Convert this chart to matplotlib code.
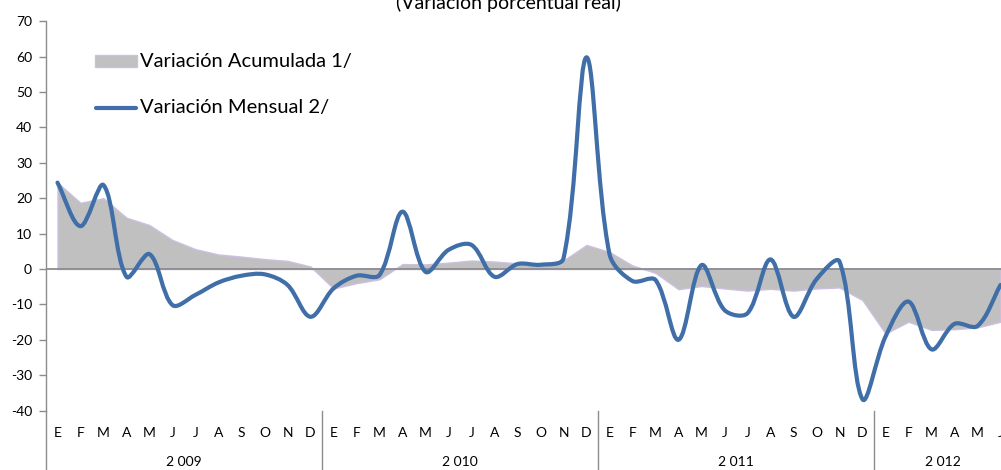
import matplotlib
matplotlib.use('Agg')
import matplotlib.pyplot as plt
from matplotlib.path import Path
from matplotlib.patches import PathPatch, Rectangle
from matplotlib.lines import Line2D
import matplotlib.transforms as mtransforms

plt.rcParams['font.family'] = ['Lato', 'DejaVu Sans']
plt.rcParams['axes.unicode_minus'] = False

# Data: monthly categories Jan 2009 - Jun 2012
months = ['E', 'F', 'M', 'A', 'M', 'J', 'J', 'A', 'S', 'O', 'N', 'D'] * 3 + ['E', 'F', 'M', 'A', 'M', 'J']
years = ['2 009', '2 010', '2 011', '2 012']
year_lengths = [12, 12, 12, 6]

variacion_acumulada = [24.4, 18.7, 20.0, 14.5, 12.4, 8.2, 5.6, 4.1, 3.5, 2.8, 2.3, 0.7,
                       -5.5, -4.0, -2.9, 1.4, 1.3, 1.8, 2.4, 2.1, 1.6, 1.5, 2.4, 6.8,
                       4.8, 1.0, -1.1, -5.7, -4.8, -5.5, -6.1, -5.6, -6.1, -5.5, -5.2, -8.8,
                       -18.2, -14.9, -17.2, -17.0, -16.5, -14.9]
variacion_mensual = [24.4, 12.1, 23.7, -2.2, 4.2, -10.2, -7.3, -3.8, -1.9, -1.5, -4.5, -13.5,
                     -5.5, -1.9, -1.7, 16.2, -0.8, 5.4, 6.8, -2.2, 1.4, 1.2, 3.0, 59.8,
                     4.2, -3.4, -3.1, -20.0, 1.1, -11.6, -12.5, 2.7, -13.5, -2.9, 2.1, -36.8,
                     -19.1, -9.2, -22.7, -15.5, -16.1, -4.5]

x = list(range(len(variacion_mensual)))

W, H = 1001, 470
fig = plt.figure(figsize=(W / 100, H / 100), dpi=100)
ax = fig.add_axes([46 / W, 1 - 410.6 / H, 966 / W, (410.6 - 21.2) / H])

# Area series
ax.fill_between(x, 0, variacion_acumulada, facecolor='#c0c0c0', edgecolor='#cdbfe0',
                linewidth=1.0, zorder=1)

# Zero line
ax.axhline(0, color='#8c8c8c', linewidth=1.3, zorder=2)

# pixel scale of the axes, used to weight the smoothing like a spreadsheet does
SX, SY = 23.0, 3.54


def smooth_path(xs, ys, t=1 / 3):
    pts = list(zip(xs, ys))
    n = len(pts)

    def dist(a, b):
        return (((b[0] - a[0]) * SX) ** 2 + ((b[1] - a[1]) * SY) ** 2) ** 0.5

    verts = [pts[0]]
    codes = [Path.MOVETO]
    for i in range(n - 1):
        p0 = pts[i - 1] if i > 0 else pts[i]
        p1 = pts[i]
        p2 = pts[i + 1]
        p3 = pts[i + 2] if i + 2 < n else pts[i + 1]
        d01, d12, d23 = dist(p0, p1), dist(p1, p2), dist(p2, p3)
        f1 = t * d12 / (d01 + d12) if d01 + d12 > 0 else 0
        f2 = t * d12 / (d12 + d23) if d12 + d23 > 0 else 0
        c1 = (p1[0] + (p2[0] - p0[0]) * f1, p1[1] + (p2[1] - p0[1]) * f1)
        c2 = (p2[0] - (p3[0] - p1[0]) * f2, p2[1] - (p3[1] - p1[1]) * f2)
        verts += [c1, c2, p2]
        codes += [Path.CURVE4] * 3
    return Path(verts, codes)


line_color = '#3f6ea8'
ax.add_patch(PathPatch(smooth_path(x, variacion_mensual), fill=False, edgecolor=line_color,
                       linewidth=3.0, capstyle='round', joinstyle='round', zorder=3))

ax.set_xlim(-0.5, len(x) - 0.5)
ax.set_ylim(-40, 70)
ax.set_yticks(range(-40, 71, 10))
ax.set_yticklabels([str(v) for v in range(-40, 71, 10)])
ax.tick_params(axis='y', length=5, width=1, color='#8c8c8c', labelsize=10, pad=5,
               labelcolor='#000000')
ax.set_xticks([])
for s in ['top', 'right', 'bottom']:
    ax.spines[s].set_visible(False)
ax.spines['left'].set_color('#8c8c8c')
ax.spines['left'].set_linewidth(1.0)
ax.patch.set_visible(False)

# Category axis labels below the plot
trans = mtransforms.blended_transform_factory(ax.transData, fig.transFigure)
bottom_ax = 1 - 410.6 / H
for i, m in enumerate(months):
    ax.text(i, 1 - 433 / H, m, transform=trans, ha='center', va='center', fontsize=10)
start = 0
for yl, n in zip(years, year_lengths):
    ax.text(start + (n - 1) / 2, 1 - 462 / H, yl, transform=trans, ha='center', va='center',
            fontsize=10)
    start += n
# separators
sep_positions = [-0.5, 11.5, 23.5, 35.5]
for sp in sep_positions:
    ax.add_line(Line2D([sp, sp], [0, bottom_ax], transform=trans, color='#8c8c8c',
                       linewidth=1.0, clip_on=False))

# Title (partly cut off at top, as in the source)
fig.text(508 / W, 1 - 9 / H, '(Variación porcentual real)', ha='center', va='baseline',
         fontsize=14)

# Legend
fig.add_artist(Rectangle((95 / W, 1 - 67 / H), 42 / W, 12 / H, transform=fig.transFigure,
                         facecolor='#c0c0c0', edgecolor='#cdbfe0', linewidth=1.0))
fig.text(140 / W, 1 - 61 / H, 'Variación Acumulada 1/', ha='left', va='center', fontsize=14.5)
fig.add_artist(Line2D([96 / W, 136 / W], [1 - 108 / H, 1 - 108 / H], transform=fig.transFigure,
                      color=line_color, linewidth=3.0, solid_capstyle='round'))
fig.text(140 / W, 1 - 108 / H, 'Variación Mensual 2/', ha='left', va='center', fontsize=14.5)

fig.savefig('out.png', dpi=100)
plt.close(fig)
